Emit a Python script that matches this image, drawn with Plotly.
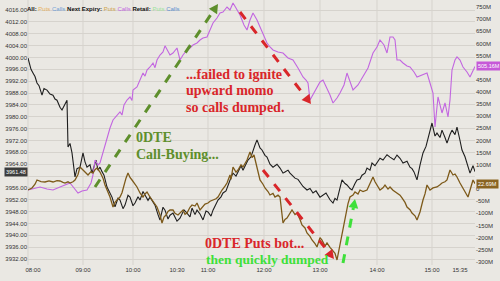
import math
import plotly.graph_objects as go

# ---------------- data ----------------
# x = session bar index (08:00 = 0)
tick_pos = [0, 50, 100, 144, 175, 231, 287, 344, 399, 427]
tick_labels = ["08:00", "09:00", "10:00", "10:30", "11:00", "12:00", "13:00", "14:00", "15:00", "15:35"]
hour_grid = [50, 100, 175, 231, 287, 344, 399]

left_ticks = [4016, 4012, 4008, 4004, 4000, 3996, 3992, 3988, 3984, 3980, 3976, 3972,
              3968, 3964, 3960, 3956, 3952, 3948, 3944, 3940, 3936, 3932]
right_ticks = [750, 700, 650, 600, 550, 500, 450, 400, 350, 300, 250, 200, 150, 100, 50,
               0, -50, -100, -150, -200, -250, -300]
left_hidden = [3960]        # labels covered by the last-value tag
right_hidden = [500, 50]

price_x = [-5, -2, 0, 2, 4, 6, 9, 11, 14, 17, 20, 22, 24, 27, 29, 32, 34, 35, 37, 39, 42, 44, 47,
           50, 52, 54, 57, 59, 61, 63, 65, 67, 69, 71, 74, 77, 79, 82, 85, 87, 90, 92, 95, 97,
           100, 102, 105, 107, 110, 112, 115, 117, 120, 122, 125, 127, 130, 132, 135, 137, 140,
           144, 147, 151, 154, 157, 159, 162, 164, 167, 170, 173, 175, 178, 180, 183, 185, 188,
           190, 193, 195, 198, 200, 203, 205, 208, 210, 213, 215, 218, 220, 222, 224, 227, 229,
           232, 234, 237, 240, 244, 247, 250, 252, 255, 257, 260, 262, 265, 267, 270, 274, 277,
           280, 283, 287, 290, 293, 297, 300, 302, 304, 307, 309, 312, 314, 317, 319, 322, 324,
           327, 329, 332, 334, 337, 339, 342, 344, 347, 350, 354, 357, 361, 364, 367, 370, 374,
           377, 379, 381, 384, 387, 390, 393, 395, 397, 399, 402, 404, 407, 409, 412, 414, 417,
           419, 422, 424, 427, 429, 432, 434, 436, 437, 440, 442]
price = [3999.8, 3996.0, 3994.8, 3993.6, 3991.4, 3990.5, 3987.3, 3989.5, 3989.0, 3987.7, 3987.3,
         3986.0, 3985.6, 3983.2, 3982.3, 3984.6, 3985.6, 3969.8, 3971.0, 3967.8, 3959.7, 3962.5,
         3963.0, 3967.8, 3964.8, 3963.0, 3963.8, 3961.0, 3963.2, 3965.4, 3962.0, 3963.0, 3961.5,
         3960.3, 3956.3, 3954.0, 3952.9, 3949.6, 3952.5, 3951.9, 3949.0, 3950.2, 3953.5, 3952.9,
         3950.0, 3950.9, 3953.0, 3951.9, 3954.8, 3953.6, 3951.8, 3952.9, 3951.5, 3950.2, 3947.0,
         3945.2, 3949.5, 3948.5, 3945.5, 3946.8, 3947.5, 3944.8, 3945.8, 3948.6, 3947.5, 3946.2,
         3949.2, 3947.0, 3948.5, 3947.2, 3945.2, 3948.2, 3947.9, 3946.5, 3948.5, 3950.5, 3951.9,
         3953.0, 3954.3, 3955.0, 3957.0, 3959.5, 3961.0, 3960.0, 3961.4, 3963.5, 3962.0, 3963.8,
         3965.4, 3966.5, 3968.8, 3970.5, 3972.2, 3969.5, 3968.8, 3967.0, 3966.4, 3964.0, 3963.0,
         3964.0, 3962.7, 3961.0, 3961.4, 3962.0, 3961.0, 3959.8, 3959.3, 3958.9, 3958.0, 3956.5,
         3955.3, 3955.8, 3954.3, 3955.0, 3952.9, 3953.5, 3954.3, 3952.0, 3950.9, 3952.5, 3951.9,
         3956.0, 3958.7, 3957.5, 3957.0, 3955.8, 3955.3, 3957.5, 3958.7, 3959.0, 3960.3, 3961.0,
         3962.7, 3962.0, 3964.4, 3963.5, 3964.7, 3966.0, 3965.4, 3967.2, 3966.4, 3965.5, 3967.1,
         3966.0, 3964.4, 3965.0, 3963.0, 3962.5, 3961.4, 3958.7, 3963.7, 3967.8, 3970.0, 3972.8,
         3975.0, 3977.9, 3973.5, 3974.5, 3973.0, 3975.5, 3973.0, 3971.1, 3974.0, 3975.5, 3974.0,
         3976.5, 3972.0, 3968.8, 3966.5, 3964.4, 3962.0, 3961.0, 3963.5, 3961.48]

puts_x = [-5, -1, 2, 4, 8, 12, 16, 20, 24, 27, 30, 32, 35, 37, 40, 42, 45, 47, 50, 53, 55, 58, 60,
          62, 64, 67, 70, 72, 75, 77, 80, 82, 84, 87, 89, 91, 93, 95, 97, 99, 102, 104, 107, 110,
          112, 114, 117, 119, 121, 124, 127, 129, 131, 133, 135, 137, 140, 142, 145, 148, 150,
          152, 154, 157, 159, 162, 164, 167, 170, 172, 175, 177, 180, 183, 185, 187, 189, 192,
          194, 197, 198, 200, 203, 205, 208, 210, 212, 214, 217, 219, 221, 224, 227, 230, 232,
          235, 237, 240, 242, 245, 247, 250, 252, 254, 257, 259, 262, 264, 267, 269, 272, 274,
          277, 279, 282, 284, 287, 289, 292, 294, 297, 299, 302, 304, 307, 310, 313, 315, 317,
          320, 322, 325, 327, 330, 334, 337, 340, 342, 344, 347, 350, 352, 355, 357, 360, 364,
          367, 369, 372, 374, 377, 379, 382, 384, 387, 390, 392, 394, 397, 400, 404, 407, 409,
          412, 414, 417, 420, 422, 424, 427, 429, 431, 433, 435, 437, 440, 442]
puts = [-3.8, 4.5, 20.0, 37.4, 31.0, 29.2, 34.0, 29.2, 35.0, 33.3, 28.0, 25.1, 30.0, 25.1, 30.0,
        37.4, 60.0, 91.0, 78.6, 68.0, 58.0, 72.0, 66.2, 80.0, 86.8, 70.4, 45.0, 16.8, -10.0,
        -32.6, -73.8, -55.0, -45.0, -32.6, -15.0, 16.8, 45.0, 66.2, 48.0, 37.4, 20.0, 8.6, -16.1,
        -32.6, -20.0, -12.0, -32.6, -45.0, -57.3, -73.8, -106.8, -139.7, -115.0, -106.8, -92.0,
        -86.2, -86.2, -100.0, -106.8, -92.0, -86.2, -104.0, -98.5, -75.0, -65.6, -70.0, -57.3,
        -86.2, -73.8, -62.0, -57.3, -50.0, -45.0, -40.0, -32.6, -15.0, -3.8, 12.0, 25.1, 58.0,
        40.0, 91.0, 70.0, 78.6, 100.0, 91.0, 105.0, 119.8, 152.7, 130.0, 140.4, 86.8, 37.4,
        20.0, 4.5, -10.0, -24.3, -18.0, -32.6, -25.0, -32.6, -139.7, -125.0, -119.1, -100.0,
        -86.2, -105.0, -98.5, -125.0, -147.9, -160.0, -180.9, -195.0, -209.7, -225.0, -238.6,
        -200.0, -209.7, -235.0, -222.1, -240.0, -250.9, -265.0, -292.1, -230.3, -168.5, -94.4,
        -60.0, -32.6, -25.0, -12.0, -20.0, -3.8, -10.0, -3.8, 20.0, 49.8, 30.0, 16.8, -3.8, 5.0,
        16.8, 0.0, 8.6, -5.0, -16.1, -25.0, -36.7, -55.0, -73.8, -85.0, -98.5, -110.0, -127.3,
        -94.4, -45.0, -20.0, 16.8, -3.8, 5.0, 8.6, 18.0, 25.1, 30.0, 37.4, 78.6, 58.0, 62.0,
        49.8, 25.1, 10.0, -3.8, -20.0, -32.6, -5.0, 37.4, 22.69]

calls_x = [-5, 2, 7, 14, 20, 27, 33, 37, 41, 45, 49, 54, 58, 60, 62, 65, 67, 71, 74, 77, 80, 84,
           87, 89, 91, 94, 97, 99, 100, 104, 107, 110, 112, 114, 117, 120, 122, 124, 127, 130,
           132, 134, 137, 140, 144, 147, 150, 154, 157, 160, 164, 167, 170, 174, 177, 180, 184,
           187, 190, 194, 197, 200, 203, 207, 211, 214, 217, 220, 224, 227, 230, 234, 237, 240,
           245, 250, 255, 260, 265, 270, 273, 275, 277, 280, 284, 287, 290, 294, 297, 300, 304,
           307, 311, 314, 317, 320, 325, 330, 335, 340, 344, 347, 351, 354, 357, 360, 362, 364,
           367, 370, 374, 377, 381, 384, 389, 394, 397, 400, 402, 405, 409, 412, 415, 417, 419,
           422, 424, 427, 430, 434, 437, 440, 442]
calls = [-3.8, 4.5, 8.6, 0.3, -3.8, 8.6, 16.8, 25.1, 4.5, -16.1, -7.9, -3.8, 25.1, 58.0, 119.8,
         99.2, 107.4, 169.2, 214.5, 251.6, 284.6, 305.1, 317.5, 305.0, 346.3, 366.9, 379.3, 365.0,
         408.1, 420.5, 449.3, 478.1, 465.0, 490.5, 502.9, 519.3, 500.0, 531.7, 552.3, 564.6,
         590.0, 572.9, 552.3, 560.5, 581.1, 531.7, 552.3, 572.9, 581.1, 593.5, 601.7, 614.1,
         622.3, 626.4, 655.3, 684.1, 704.7, 725.3, 729.4, 750.0, 737.6, 766.5, 745.9, 717.0,
         675.9, 655.3, 696.5, 725.3, 696.5, 667.6, 642.9, 601.7, 585.2, 572.9, 564.6, 560.5,
         539.9, 531.7, 498.7, 461.7, 449.3, 437.0, 366.9, 387.5, 420.5, 441.1, 449.3, 416.4,
         387.5, 354.6, 375.2, 395.8, 428.7, 478.1, 441.1, 408.1, 428.7, 461.7, 498.7, 560.5,
         585.2, 614.1, 593.5, 560.5, 626.4, 626.4, 614.1, 531.7, 531.7, 519.3, 507.0, 502.9,
         482.3, 461.7, 469.9, 478.1, 437.0, 395.8, 255.7, 379.3, 313.4, 354.6, 296.9, 366.9,
         490.5, 531.7, 544.1, 531.7, 502.9, 482.3, 461.7, 490.5, 505.16]

# ---------------- figure ----------------
W, H = 500, 281
ML, MR, MT, MB = 28, 25, 0, 16
PW, PH = W - ML - MR, H - MT - MB

BG = "#eae8e3"
GRID = "#d6d3cd"
BLACK = "#1e1e1e"
BROWN = "#7d5a1a"
VIOLET = "#c266e0"

fig = go.Figure()
fig.add_trace(go.Scatter(x=price_x, y=price, mode="lines", line=dict(color=BLACK, width=1.1),
                         yaxis="y", showlegend=False))
fig.add_trace(go.Scatter(x=calls_x, y=calls, mode="lines", line=dict(color=VIOLET, width=1.1),
                         yaxis="y2", showlegend=False))
fig.add_trace(go.Scatter(x=puts_x, y=puts, mode="lines", line=dict(color=BROWN, width=1.3),
                         yaxis="y2", showlegend=False))

tickfont = dict(family="Liberation Sans", size=6, color="#333")
fig.update_layout(
    width=W, height=H, margin=dict(l=ML, r=MR, t=MT, b=MB),
    paper_bgcolor=BG, plot_bgcolor=BG,
    xaxis=dict(range=[-5, 442], tickvals=tick_pos, ticktext=tick_labels, showgrid=False,
               zeroline=False, tickfont=tickfont, ticks="", showline=False),
    yaxis=dict(range=[3930.0, 4019.4], tickvals=left_ticks,
               ticktext=[("" if v in left_hidden else f"{v:.2f}") for v in left_ticks],
               gridcolor=GRID, gridwidth=1, zeroline=False, tickfont=tickfont, ticks=""),
    yaxis2=dict(range=[-312.7, 778.8], overlaying="y", side="right", tickvals=right_ticks,
                ticktext=[("" if v in right_hidden else ("0" if v == 0 else f"{v}M"))
                          for v in right_ticks],
                showgrid=False, zeroline=False, tickfont=tickfont, ticks=""),
)

shapes = []
for gx in hour_grid:
    shapes.append(dict(type="line", xref="x", yref="paper", x0=gx, x1=gx, y0=0, y1=1,
                       line=dict(color=GRID, width=1), layer="below"))
shapes.append(dict(type="line", xref="paper", yref="paper", x0=0, x1=0, y0=0, y1=1,
                   line=dict(color=GRID, width=1), layer="below"))


def px(xp, yp):
    return (xp - ML) / PW, 1 - (yp - MT) / PH


def arrow(x0, y0, x1, y1, color, width=3, head=9):
    dx, dy = x1 - x0, y1 - y0
    L = math.hypot(dx, dy)
    ux, uy = dx / L, dy / L
    bx, by = x1 - ux * head, y1 - uy * head
    a0, b0 = px(x0, y0)
    a1, b1 = px(bx, by)
    shapes.append(dict(type="line", xref="paper", yref="paper", x0=a0, y0=b0, x1=a1, y1=b1,
                       line=dict(color=color, width=width, dash="dash")))
    nx, ny = -uy, ux
    w = head * 0.55
    p1 = px(x1, y1)
    p2 = px(bx + nx * w, by + ny * w)
    p3 = px(bx - nx * w, by - ny * w)
    path = f"M {p1[0]} {p1[1]} L {p2[0]} {p2[1]} L {p3[0]} {p3[1]} Z"
    shapes.append(dict(type="path", xref="paper", yref="paper", path=path,
                       fillcolor=color, line=dict(color=color, width=0)))


OLIVE = "#5e8f2c"
RED = "#d9262a"
LIME = "#3ee03a"
arrow(95, 187, 218, 4, OLIVE)
arrow(240, 12, 311, 104, RED)
arrow(263, 170, 334, 259, RED)
arrow(343, 263, 355, 199, LIME)

fig.update_layout(shapes=shapes)

ann = []


def text(xp, yp, s, color, size=14):
    a, b = px(xp, yp)
    ann.append(dict(xref="paper", yref="paper", x=a, y=b, text=f"<b>{s}</b>", showarrow=False,
                    xanchor="left", yanchor="middle",
                    font=dict(family="Liberation Serif", size=size, color=color)))


text(134, 137, "0DTE", OLIVE)
text(134, 154, "Call-Buying...", OLIVE)
text(184, 75, "...failed to ignite", RED)
text(184, 91, "upward momo", RED)
text(184, 107, "so calls dumped.", RED)
text(203, 243, "0DTE Puts bot...", RED)
text(204, 259, "then quickly dumped", LIME, 13.5)

legend_html = ("<b>All:</b> <span style='color:#e8b25e'>Puts</span> "
               "<span style='color:#6f9fd6'>Calls</span> <b>Next Expiry:</b> "
               "<span style='color:#cfa64c'>Puts</span> "
               "<span style='color:#c266e0'>Calls</span> <b>Retail:</b> "
               "<span style='color:#9be39b'>Puts</span> "
               "<span style='color:#5b8fd0'>Calls</span>")
a, b = px(25, 9)
ann.append(dict(xref="paper", yref="paper", x=a, y=b, text=legend_html, showarrow=False,
                xanchor="left", yanchor="middle",
                font=dict(family="Liberation Sans", size=6, color="#111")))

# last-value tags
tagfont = dict(family="Liberation Sans", size=5.5, color="white")
ann.append(dict(xref="paper", yref="y", x=0, y=price[-1], text=f"{price[-1]:.2f}",
                showarrow=False, xanchor="right", yanchor="middle", bgcolor="#3c3c3c",
                font=tagfont, borderpad=1))
ann.append(dict(xref="paper", yref="y2", x=1, y=calls[-1], text=f"{calls[-1]:.2f}M",
                showarrow=False, xanchor="left", yanchor="middle", bgcolor="#c659d8",
                font=tagfont, borderpad=1, xshift=1))
ann.append(dict(xref="paper", yref="y2", x=1, y=puts[-1], text=f"{puts[-1]:.2f}M",
                showarrow=False, xanchor="left", yanchor="middle", bgcolor="#8a6420",
                font=tagfont, borderpad=1, xshift=1))
fig.update_layout(annotations=ann)

fig.write_html("out.html")
